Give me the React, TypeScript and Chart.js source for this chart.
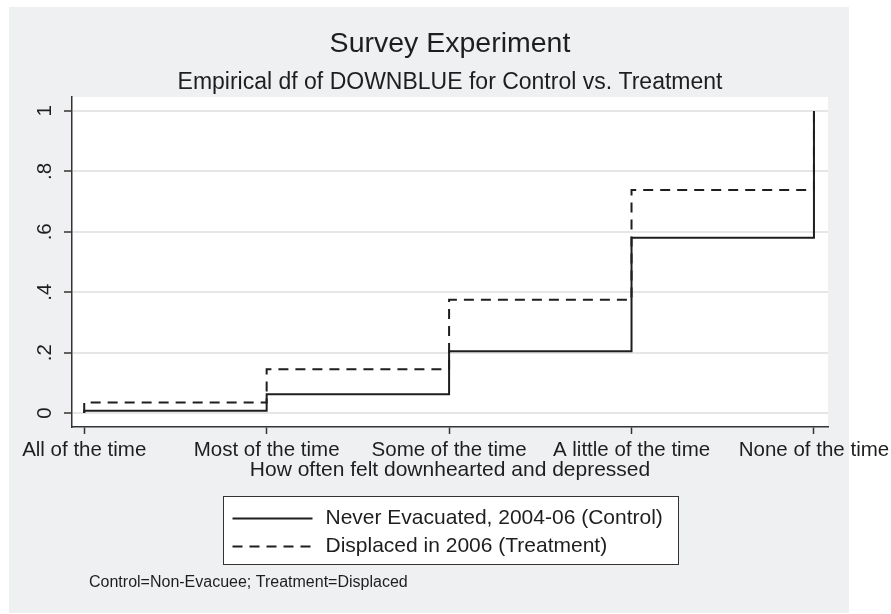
import React, { useEffect, useRef } from "react";
import { Chart, registerables } from "chart.js";

Chart.register(...registerables);

// ---- data ----
const categories = [
  "All of the time",
  "Most of the time",
  "Some of the time",
  "A little of the time",
  "None of the time",
];
const categoryPositions = [1, 2, 3, 4, 5];
const cdfStart = 0;
const controlCdf = [0.008, 0.062, 0.205, 0.58, 1.0];
const treatmentCdf = [0.035, 0.145, 0.375, 0.738, 1.0];
const yTickValues = [0, 0.2, 0.4, 0.6, 0.8, 1];
const yTickLabels = ["0", ".2", ".4", ".6", ".8", "1"];
const seriesLabels = [
  "Never Evacuated, 2004-06 (Control)",
  "Displaced in 2006 (Treatment)",
];
const titleText = "Survey Experiment";
const subtitleText = "Empirical df of DOWNBLUE for Control vs. Treatment";
const xAxisTitle = "How often felt downhearted and depressed";
const footnoteText = "Control=Non-Evacuee; Treatment=Displaced";

// ---- style ----
const FONT = '"Liberation Sans", Arial, Helvetica, sans-serif';
const TEXT = "#1e1e1e";
const LINE = "#1e1e1e";
const AXIS = "#333333";
const GRID = "#e6e6e6";
const PANEL = "#eff0f2";
const W = 891;
const H = 614;

function stepPoints(values: number[]) {
  return [
    { x: categoryPositions[0], y: cdfStart },
    ...values.map((v, i) => ({ x: categoryPositions[i], y: v })),
  ];
}

const backgroundPlugin = {
  id: "panelBackground",
  beforeDraw(chart: any) {
    const { ctx, width, height, chartArea } = chart;
    ctx.save();
    ctx.fillStyle = "#ffffff";
    ctx.fillRect(0, 0, width, height);
    ctx.fillStyle = PANEL;
    ctx.fillRect(9, 7, 840, 606);
    ctx.fillStyle = "#ffffff";
    ctx.fillRect(
      chartArea.left,
      chartArea.top,
      chartArea.right - chartArea.left,
      chartArea.bottom - chartArea.top
    );
    ctx.restore();
  },
};

const boxLegendPlugin = {
  id: "boxLegend",
  afterDraw(chart: any) {
    const { ctx, chartArea } = chart;
    const ds = chart.data.datasets;
    ctx.save();
    ctx.font = `21px ${FONT}`;
    const maxW = Math.max(...ds.map((d: any) => ctx.measureText(d.label).width));
    const padL = 9,
      sample = 80,
      gap = 13,
      padR = 16,
      rowH = 28,
      padT = 22,
      h = 68;
    const w = Math.round(padL + sample + gap + maxW + padR);
    const cx = (chartArea.left + chartArea.right) / 2;
    const left = Math.round(cx - w / 2) + 0.5;
    const top = Math.round(chartArea.bottom + 69) + 0.5;
    ctx.fillStyle = "#ffffff";
    ctx.fillRect(left, top, w, h);
    ctx.strokeStyle = AXIS;
    ctx.lineWidth = 1;
    ctx.strokeRect(left, top, w, h);
    ds.forEach((d: any, i: number) => {
      const y = top + padT + i * rowH;
      ctx.beginPath();
      ctx.setLineDash(d.borderDash || []);
      ctx.strokeStyle = d.borderColor;
      ctx.lineWidth = 2;
      ctx.moveTo(left + padL, y);
      ctx.lineTo(left + padL + sample, y);
      ctx.stroke();
      ctx.setLineDash([]);
      ctx.fillStyle = TEXT;
      ctx.textBaseline = "middle";
      ctx.textAlign = "left";
      ctx.fillText(d.label, left + padL + sample + gap, y);
    });
    ctx.font = `16px ${FONT}`;
    ctx.fillStyle = TEXT;
    ctx.textBaseline = "middle";
    ctx.textAlign = "left";
    ctx.fillText(footnoteText, 89, 582.5);
    ctx.restore();
  },
};

export default function App() {
  const ref = useRef<HTMLCanvasElement | null>(null);

  useEffect(() => {
    if (!ref.current) return;
    Chart.defaults.font.family = FONT;
    const chart = new Chart(ref.current, {
      type: "line",
      data: {
        datasets: [
          {
            label: seriesLabels[0],
            data: stepPoints(controlCdf),
            borderColor: LINE,
            borderWidth: 2,
            pointRadius: 0,
            stepped: true,
            fill: false,
          },
          {
            label: seriesLabels[1],
            data: stepPoints(treatmentCdf),
            borderColor: LINE,
            borderWidth: 2,
            borderDash: [10, 7],
            pointRadius: 0,
            stepped: true,
            fill: false,
          },
        ],
      },
      options: {
        responsive: false,
        animation: false,
        devicePixelRatio: 1,
        layout: { padding: { top: 0, left: 0, right: 63, bottom: 131 } },
        plugins: {
          legend: { display: false },
          tooltip: { enabled: false },
          title: {
            display: true,
            text: titleText,
            fullSize: false,
            color: TEXT,
            font: { size: 28.5, weight: "normal", family: FONT, lineHeight: 1.2 },
            padding: { top: 27.4, bottom: 3 },
          },
          subtitle: {
            display: true,
            text: subtitleText,
            fullSize: false,
            color: TEXT,
            font: { size: 23, weight: "normal", family: FONT, lineHeight: 1.2 },
            padding: { top: 4.6, bottom: 0.2 },
          },
        },
        scales: {
          x: {
            type: "linear",
            min: 0.933,
            max: 5.077,
            afterBuildTicks: (s: any) => {
              s.ticks = categoryPositions.map((v) => ({ value: v }));
            },
            afterFit: (s: any) => {
              s.height = 56;
              s.paddingLeft = 0;
              s.paddingRight = 0;
            },
            ticks: {
              autoSkip: false,
              minRotation: 0,
              maxRotation: 0,
              padding: 3.7,
              color: TEXT,
              font: { size: 20.5, family: FONT },
              callback: (_v: any, i: number) => categories[i],
            },
            grid: {
              drawOnChartArea: false,
              drawTicks: true,
              tickLength: 7,
              tickColor: AXIS,
              tickWidth: 1.5,
            },
            border: { display: true, color: AXIS, width: 1.5 },
            title: {
              display: true,
              text: xAxisTitle,
              color: TEXT,
              font: { size: 21, family: FONT, lineHeight: 1.2 },
              padding: { top: 0, bottom: 0 },
            },
          },
          y: {
            type: "linear",
            min: -0.046,
            max: 1.046,
            afterBuildTicks: (s: any) => {
              s.ticks = yTickValues.map((v) => ({ value: v }));
            },
            afterFit: (s: any) => {
              s.width = 72;
              s.paddingTop = 0;
              s.paddingBottom = 0;
            },
            ticks: {
              autoSkip: false,
              minRotation: 90,
              maxRotation: 90,
              crossAlign: "center",
              padding: 10,
              color: TEXT,
              font: { size: 20.5, family: FONT },
              callback: (_v: any, i: number) => yTickLabels[i],
            },
            grid: {
              color: GRID,
              lineWidth: 2,
              drawTicks: true,
              tickLength: 8,
              tickColor: AXIS,
              tickWidth: 1.5,
            },
            border: { display: true, color: AXIS, width: 1.5 },
          },
        },
      } as any,
      plugins: [backgroundPlugin, boxLegendPlugin],
    });
    return () => chart.destroy();
  }, []);

  return (
    <div style={{ position: "fixed", left: 0, top: 0, width: W, height: H }}>
      <canvas
        ref={ref}
        width={W}
        height={H}
        style={{ width: W, height: H, display: "block" }}
      />
    </div>
  );
}
